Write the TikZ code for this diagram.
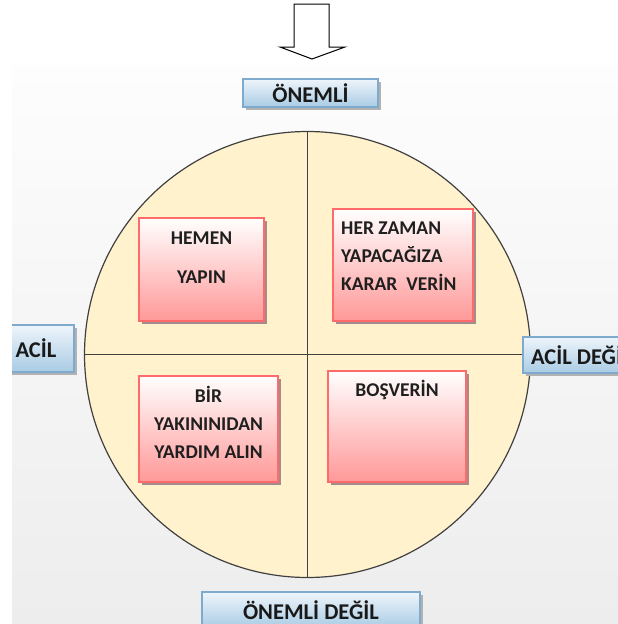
\documentclass[tikz,border=0pt]{standalone}
\usepackage{fontspec}
\setmainfont{Carlito}
\usetikzlibrary{shadows}
\definecolor{sari}{HTML}{FFF2CC}
\definecolor{pembe}{HTML}{FF9898}
\definecolor{pcizgi}{HTML}{FF6B6B}
\definecolor{mavi}{HTML}{A9CBE4}
\definecolor{acikmavi}{HTML}{EEF5FB}
\definecolor{mcizgi}{HTML}{7DAACD}
\definecolor{zeminust}{HTML}{FDFDFD}
\definecolor{zeminalt}{HTML}{EDEDED}
\definecolor{golge}{HTML}{A58C8C}
\tikzset{
kutu/.style={draw=pcizgi,line width=1.6pt,top color=white,bottom color=pembe,
  general shadow={fill=golge,shadow xshift=3pt,shadow yshift=-3pt}},
etiket/.style={draw=mcizgi,line width=1.6pt,top color=acikmavi,bottom color=mavi,
  general shadow={fill=black!30,shadow xshift=3pt,shadow yshift=-3pt},
  font=\fontsize{22.5}{26}\selectfont\bfseries,text=black!90},
yazi/.style={font=\fontsize{19.5}{28}\selectfont\bfseries,text=black!88,align=center,inner sep=0pt}
}
\begin{document}
\begin{tikzpicture}[x=1pt,y=-1pt]
\useasboundingbox (0,0) rectangle (618,624);
\begin{scope}
\clip (12,0) rectangle (618,624);
\fill[top color=zeminust,bottom color=zeminalt] (12,65) rectangle (618,624);
\node[draw=black!75,line width=1.2pt,fill=sari,circle,minimum size=446pt,inner sep=0pt] (c) at (307.5,354.5) {};
\draw[black!75,line width=1.2pt] (c.north) -- (c.south);
\draw[black!75,line width=1.2pt] (c.west) -- (c.east);
\node[kutu,minimum width=125pt,minimum height=103pt] (k1) at (201.5,269.5) {};
\node[kutu,minimum width=140pt,minimum height=112pt] (k2) at (403,265) {};
\node[kutu,minimum width=139pt,minimum height=106pt] (k3) at (208.5,429) {};
\node[kutu,minimum width=138pt,minimum height=111pt] (k4) at (397,426.5) {};
\node[yazi] (y1) at (201.5,257.5) {HEMEN\\[11pt]YAPIN};
\node[yazi,align=left,anchor=west] (y2) at (341,256) {HER ZAMAN\\YAPACAĞIZA\\KARAR\ \ VERİN};
\node[yazi] (y3) at (208.5,422.5) {BİR\\YAKININIDAN\\YARDIM ALIN};
\node[yazi] (y4) at (397,390) {BOŞVERİN};
\node[etiket,minimum width=135pt,minimum height=28pt] (onemli) at (310.5,93) {ÖNEMLİ};
\node[etiket,minimum width=76pt,minimum height=47pt] (acil) at (36,348.5) {ACİL};
\node[etiket,anchor=west,minimum width=117pt,minimum height=36pt] (acild) at (522,355) {ACİL DEĞİL};
\node[etiket,minimum width=218pt,minimum height=36pt] (onemlid) at (311,610) {ÖNEMLİ DEĞİL};
\end{scope}
\draw[line width=1pt,fill=white] (294,4) -- (329,4) -- (329,47) -- (345,47) -- (312,59) -- (280,47) -- (294,47) -- cycle;
\end{tikzpicture}
\end{document}
